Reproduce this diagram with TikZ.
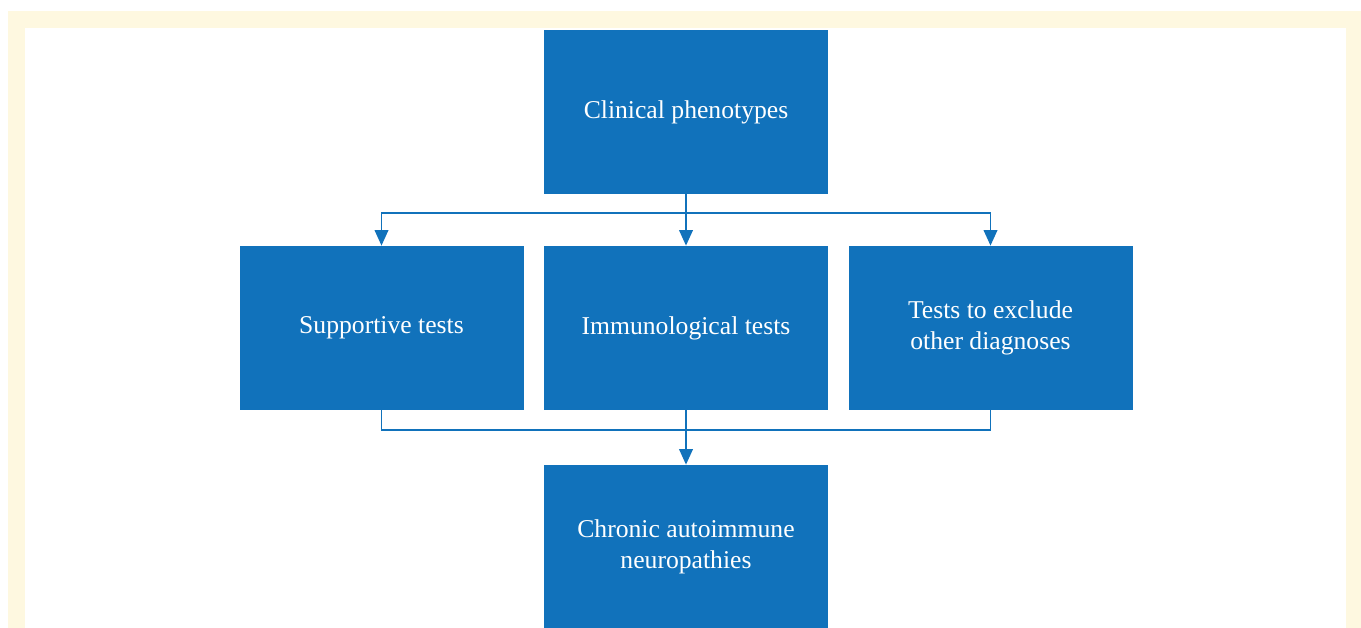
\documentclass[tikz,border=0pt]{standalone}
\usepackage{fontspec}
\setmainfont{Liberation Serif}
\definecolor{boxblue}{RGB}{17, 114, 187}
\definecolor{framecream}{RGB}{254, 248, 224}
\usetikzlibrary{arrows.meta, calc}

\begin{document}
\begin{tikzpicture}[
        stage/.style={fill=boxblue, minimum width=5.68cm, minimum height=3.28cm, align=center, text=white, font=\fontsize{14.6}{17.6}\selectfont, inner sep=0pt},
        link/.style={draw=boxblue, line width=1.1pt},
        arrow/.style={link, -{Triangle[width=0.27cm, length=0.31cm]}},
      ]
      \useasboundingbox (0, 0) rectangle (27.22, -12.56);
      \fill[framecream] (0.16, -0.22) rectangle (27.22, -12.56);
      \fill[white] (0.5, -0.56) rectangle (26.92, -12.56);
      \begin{scope}
      \clip (0, 0) rectangle (27.22, -12.56);
      \node[stage] (clin) at (13.72, -2.24) {Clinical phenotypes};
      \node[stage] (sup) at (7.63, -6.56) {Supportive tests};
      \node[stage] (imm) at (13.72, -6.56) {Immunological tests};
      \node[stage] (excl) at (19.81, -6.56) {Tests to exclude\\other diagnoses};
      \node[stage] (chron) at (13.72, -10.94) {Chronic autoimmune\\neuropathies};
      \end{scope}
      % split below the phenotypes
      \coordinate (split) at ($(clin.south)+(0, -0.38)$);
      \draw[link] (clin.south) -- (split);
      \draw[arrow] (split) -| (sup.north);
      \draw[arrow] (split) -- (imm.north);
      \draw[arrow] (split) -| (excl.north);
      % join above the diagnosis
      \coordinate (join) at ($(imm.south)+(0, -0.4)$);
      \draw[link] (sup.south) |- (join) -| (excl.south);
      \draw[arrow] (imm.south) -- (chron.north);
      \end{tikzpicture}
\end{document}
